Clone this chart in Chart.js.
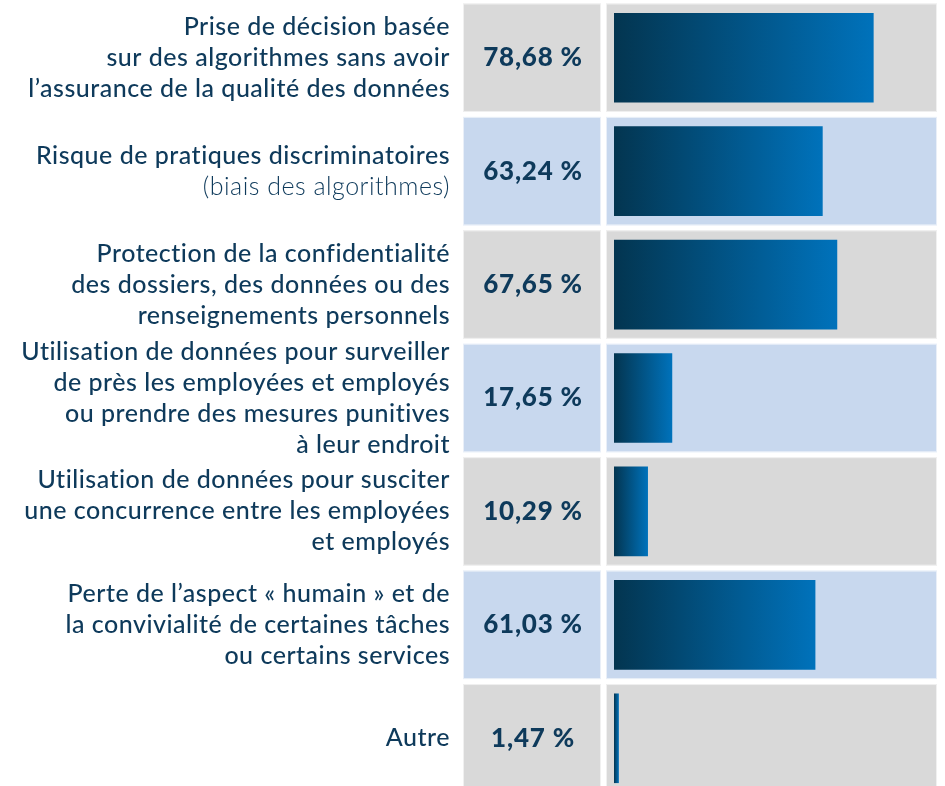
<!DOCTYPE html>
<html lang="fr">
<head>
<meta charset="utf-8">
<script src="https://cdn.jsdelivr.net/npm/chart.js@4.4.1/dist/chart.umd.min.js"></script>
<style>
html,body{margin:0;padding:0;background:#fff;overflow:hidden;}
canvas{display:block;}
</style>
</head>
<body>
<canvas id="grafik" width="945" height="795"></canvas>
<script>
// =========================
// DONNÉES
// =========================

let categories = [
["Prise de décision basée","sur des algorithmes sans avoir","l’assurance de la qualité des données"],
["Risque de pratiques discriminatoires","(biais des algorithmes)"],
["Protection de la confidentialité","des dossiers, des données ou des","renseignements personnels"],
["Utilisation de données pour surveiller","de près les employées et employés","ou prendre des mesures punitives","à leur endroit"],
["Utilisation de données pour susciter","une concurrence entre les employées","et employés"],
["Perte de l’aspect « humain » et de","la convivialité de certaines tâches","ou certains services"],
["Autre"]
];

let pourcentages = [78.68, 63.24, 67.65, 17.65, 10.29, 61.03, 1.47];

let echelleMin = 0;
let echelleMax = 100;


// =========================
// COULEURS
// =========================

let couleurTexte = "#0e3a5b";
let fondGris = "#d9d9d9";
let fondBleu = "#c8d8ee";


function formatPct(v){
return v.toFixed(2).replace(".", ",") + " %";
}


// =========================
// FONDS DES RANGÉES
// =========================

let fondsPlugin = {
id:"fonds",
beforeDatasetsDraw:function(chart){
let c = chart.ctx;
let y = chart.scales.y;
let area = chart.chartArea;
let pas = (y.bottom - y.top) / categories.length;

c.save();
categories.forEach(function(cat, i){
let centre = y.getPixelForValue(i);
let haut = centre - pas/2 + 2.5;
let h = pas - 5;
c.fillStyle = (i % 2 == 0) ? fondGris : fondBleu;
// case du pourcentage
c.fillRect(area.left - 151, haut, 138, h);
// panneau de la barre
c.fillRect(area.left - 8, haut, area.right - 7 - (area.left - 8), h);
c.strokeStyle = "rgba(255,255,255,0.6)";
c.lineWidth = 1;
c.strokeRect(area.left - 151 + 0.5, haut + 0.5, 137, h - 1);
c.strokeRect(area.left - 8 + 0.5, haut + 0.5, area.right - 7 - (area.left - 8) - 1, h - 1);
});
c.restore();
}
};


// =========================
// TEXTES (ÉTIQUETTES ET %)
// =========================

let textesPlugin = {
id:"textes",
afterDatasetsDraw:function(chart){
let c = chart.ctx;
let y = chart.scales.y;
let area = chart.chartArea;
let interligne = 31;

c.save();
c.textBaseline = "middle";
c.fillStyle = couleurTexte;

categories.forEach(function(lignes, i){
let centre = y.getPixelForValue(i);

// pourcentage
c.textAlign = "center";
c.font = "900 26px Lato";
c.letterSpacing = "0.8px";
c.fillText(formatPct(pourcentages[i]), area.left - 81, centre);

// étiquette
c.textAlign = "right";
c.letterSpacing = "0.5px";
let debut = centre - (lignes.length - 1) * interligne / 2;
lignes.forEach(function(txt, k){
c.font = (txt.charAt(0) == "(") ? "300 25px Lato" : "500 25px Lato";
c.fillText(txt, area.left - 164, debut + k * interligne);
});
});
c.restore();
}
};


// =========================
// GRAPHIQUE
// =========================

let ctx = document.getElementById("grafik");

new Chart(ctx,{
type:"bar",
data:{
labels:categories,
datasets:[{
data:pourcentages,
borderWidth:0,
barPercentage:0.79,
categoryPercentage:1,
backgroundColor:function(context){
let chart = context.chart;
if(!chart.chartArea) return "#0071bb";
let x = chart.scales.x;
let x0 = x.getPixelForValue(0);
let x1 = x.getPixelForValue(context.raw);
if(x1 - x0 < 1) x1 = x0 + 1;
let g = chart.ctx.createLinearGradient(x0, 0, x1, 0);
g.addColorStop(0, "#033550");
g.addColorStop(1, "#0072bb");
return g;
}
}]
},
options:{
indexAxis:"y",
responsive:false,
animation:false,
devicePixelRatio:1,
layout:{padding:{left:614, right:1, top:1, bottom:0}},
plugins:{legend:{display:false}, tooltip:{enabled:false}},
scales:{
x:{display:false, min:echelleMin, max:echelleMax, grid:{display:false}},
y:{display:false, grid:{display:false}}
}
},
plugins:[fondsPlugin, textesPlugin]
});
</script>
</body>
</html>
